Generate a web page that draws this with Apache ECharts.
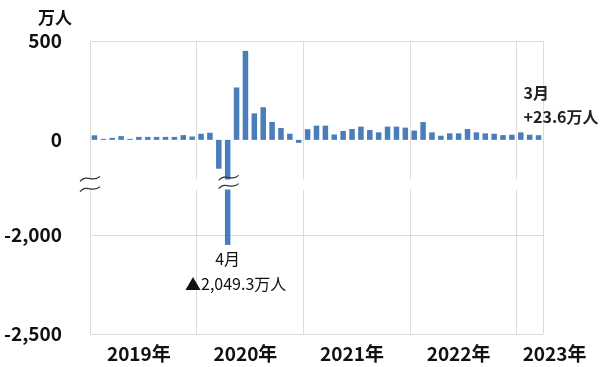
<!DOCTYPE html>
<html>
<head>
<meta charset="utf-8">
<script src="https://cdn.jsdelivr.net/npm/echarts@6/dist/echarts.min.js"></script>
<style>html,body{margin:0;padding:0;background:#fff}#c{width:600px;height:367px}</style>
</head>
<body>
<div id="c"></div>
<script>
// ---- data (万人) ----
const years = ['2019', '2020', '2021', '2022', '2023'];
const values2019 = [23, 5, 10, 19, 5, 15, 15, 15, 15, 15, 24, 17];
const values2020 = [31, 36, -146, -2049.3, 265, 450, 134, 165, 91, 60, 31, -15];
const values2021 = [54, 72, 72, 27, 45, 55, 67, 50, 38, 67, 67, 62];
const values2022 = [47, 90, 38, 21, 33, 33, 55, 38, 33, 31, 24, 26];
const values2023 = [38, 26, 23.6];
const yLabelValues = [500, 0, -2000, -2500];
const yGridValues = [500, -2000, -2500];
const breakRange = [-1770, -200];
const unitLabel = '万人';
const noteApr = ['4月', '▲2,049.3万人'];
const noteMar = ['3月', '+23.6万人'];

const allValues = [values2019, values2020, values2021, values2022, values2023];
const categories = [];
const values = [];
allValues.forEach((arr, yi) => arr.forEach((v, mi) => {
  categories.push(years[yi] + '-' + (mi + 1));
  values.push(v);
}));
const aprIndex = 15;
const lastIndex = values.length - 1;

const FONT = '"Noto Sans CJK JP", "Noto Sans", sans-serif';
const chart = echarts.init(document.getElementById('c'), null, {renderer: 'canvas'});

const data = values.map((v, i) => {
  if (i === aprIndex) {
    return {value: v, label: {show: true, position: 'bottom', distance: 2, offset: [8, 0],
      formatter: '{a|' + noteApr[0] + '}\n{b|' + noteApr[1] + '}',
      rich: {
        a: {fontFamily: FONT, fontSize: 16, lineHeight: 25, color: '#111', padding: [0, 16, 0, 0]},
        b: {fontFamily: FONT, fontSize: 16, lineHeight: 25, color: '#111'}
      },
      align: 'center'}};
  }
  if (i === lastIndex) {
    return {value: v, label: {show: true, position: 'top', distance: 6, align: 'left', offset: [-15, 0],
      formatter: noteMar.join('\n'), fontFamily: FONT, fontSize: 16, fontWeight: 'bold', lineHeight: 24, color: '#222'}};
  }
  return v;
});

const fmt = v => (v < 0 ? '-' : '') + Math.abs(v).toLocaleString('en-US');

chart.setOption({
  animation: false,
  title: {text: unitLabel, left: 33, top: 4, textStyle: {fontFamily: FONT, fontSize: 17, fontWeight: 'bold', color: '#111'}},
  grid: {left: 90, right: 57, top: 41, bottom: 33},
  xAxis: {
    type: 'category',
    data: categories,
    axisLine: {show: false, onZero: false},
    axisTick: {show: false},
    splitLine: {show: true, interval: (i) => i % 12 === 0, lineStyle: {color: '#dcdcdc', width: 1}},
    axisLabel: {
      interval: (i) => i % 12 === 5 || i === lastIndex,
      margin: 10,
      fontFamily: FONT, fontSize: 19, fontWeight: 'bold', color: '#111',
      formatter: (val, i) => {
        const y = val.split('-')[0];
        return i === lastIndex ? '{s|' + y + '年}' : y + '年';
      },
      rich: {s: {fontFamily: FONT, fontSize: 19, fontWeight: 'bold', color: '#111', padding: [0, 0, 0, 32]}}
    }
  },
  yAxis: {
    type: 'value',
    min: -2500, max: 500, interval: 500,
    breaks: [{start: breakRange[0], end: breakRange[1], gap: '3.5%'}],
    breakArea: {show: true, itemStyle: {color: '#fff', borderColor: 'transparent', borderWidth: 0, opacity: 1}, zigzagAmplitude: 0, expandOnClick: false},
    axisLine: {show: false},
    axisTick: {show: false, customValues: yGridValues},
    axisLabel: {
      margin: 28,
      customValues: yLabelValues,
      fontFamily: FONT, fontSize: 19, fontWeight: 'bold', color: '#111',
      formatter: (v) => fmt(v)
    },
    splitLine: {show: true, lineStyle: {color: '#dcdcdc', width: 1}}
  },
  series: [{
    type: 'bar',
    data: data,
    barCategoryGap: '38%',
    itemStyle: {color: '#4a7ebb'}
  }]
});

// break marks placed from the axis scales
function wave(cx, cy) {
  return {type: 'bezierCurve', shape: {x1: cx - 10, y1: cy + 2, cpx1: cx - 3, cpy1: cy - 6, cpx2: cx + 3, cpy2: cy + 4, x2: cx + 10, y2: cy - 3},
    style: {stroke: '#333', lineWidth: 1.2, fill: null}, z: 200};
}
const yTop = chart.convertToPixel({yAxisIndex: 0}, breakRange[1]);
const yBot = chart.convertToPixel({yAxisIndex: 0}, breakRange[0]);
const x0 = chart.convertToPixel({xAxisIndex: 0}, categories[0]);
const x1 = chart.convertToPixel({xAxisIndex: 0}, categories[1]);
const leftEdge = x0 - (x1 - x0) / 2;
const xApr = chart.convertToPixel({xAxisIndex: 0}, categories[aprIndex]);
chart.setOption({graphic: [
  wave(leftEdge, yTop), wave(leftEdge, yBot),
  wave(xApr + 1, yTop - 1), wave(xApr + 1, yBot - 3)
]});
</script>
</body>
</html>
